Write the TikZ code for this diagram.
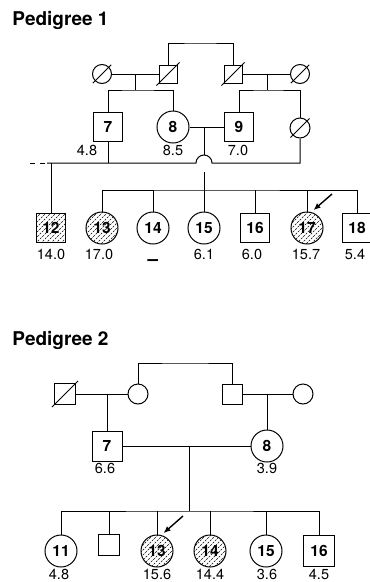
\documentclass[tikz,border=0pt]{standalone}
\usepackage{fontspec}
\setmainfont{TeX Gyre Heros}
\usetikzlibrary{arrows.meta}

\begin{document}
\begin{tikzpicture}[x=1pt, y=-1pt, line width=1pt,
  male/.style={draw, rectangle, inner sep=0pt, minimum size=#1, font=\fontsize{15.5}{15.5}\selectfont\bfseries},
  male/.default=29pt,
  female/.style={draw, circle, inner sep=0pt, minimum size=#1, font=\fontsize{15.5}{15.5}\selectfont\bfseries},
  female/.default=32pt,
  dead/.style={append after command={(\tikzlastnode.south west) edge[shorten <=-3pt, shorten >=-3pt] (\tikzlastnode.north east)}},
  aff/.style={path picture={\foreach \k in {-65,-60,...,15}
      \draw[line width=0.55pt, dash pattern=on 2pt off 1.3pt]
        ([shift={(\k pt,-25pt)}]path picture bounding box.center) -- ++(50pt,50pt);}},
  val/.style={font=\fontsize{14.5}{16}\selectfont, inner sep=0pt, anchor=base},
  ttl/.style={font=\fontsize{19}{22}\selectfont\bfseries, inner sep=0pt, anchor=base west},
  proband/.style={-{Latex[length=7pt,width=6pt]}, line width=1.4pt, shorten >=3pt}
]
\useasboundingbox (0,0) rectangle (370,582);

% Pedigree 1
\node[ttl] (t1) at (12,25) {Pedigree 1};
\node[female=19pt, dead] (a1) at (102,74) {};
\node[male=18pt, dead]   (a2) at (168,74) {};
\node[male=18pt, dead]   (a3) at (233,74) {};
\node[female=19pt, dead] (a4) at (300,74) {};
\node[male]   (n7) at (108,127) {7};
\node[female] (n8) at (173,127) {8};
\node[male]   (n9) at (239,127) {9};
\node[female=20pt, dead] (d9) at (300,128) {};
\node[male, aff]   (n12) at (51,228)  {12};
\node[female, aff] (n13) at (102,228) {13};
\node[female]      (n14) at (153,228) {14};
\node[female]      (n15) at (204,228) {15};
\node[male]        (n16) at (255,228) {16};
\node[female, aff] (n17) at (307,228) {17};
\node[male]        (n18) at (357,228) {18};

\coordinate (top1) at (200,43);
\coordinate (m1) at (135,74);
\coordinate (s1) at (135,90);
\coordinate (m2) at (267,74);
\coordinate (s2) at (267,90);
\coordinate (m3) at (204,127);
\coordinate (hop) at (204,163);
\coordinate (l0) at (30,163);
\coordinate (l1) at (47,163);
\coordinate (s3) at (204,190);

\draw (a2.north) |- (top1) -| (a3.north);
\draw (a1) -- (a2);
\draw (m1) -- (s1);
\draw (n7.north) |- (s1) -| (n8.north);
\draw (a3) -- (a4);
\draw (m2) -- (s2);
\draw (n9.north) |- (s2) -| (d9.north);
\draw (n8) -- (n9);
\draw[dash pattern=on 5pt off 5pt] (l0) -- (l1);
\draw (l1) -- ([xshift=-8pt]hop) arc[start angle=180, end angle=0, radius=8pt] -| (d9.south);
\draw (n7.south) -- (n7.south |- hop);
\draw (n12.north) -- (n12.north |- hop);
\draw (m3) -- ([yshift=8pt]hop);
\draw ([yshift=-9pt]hop) -- (s3);
\draw (n13.north) |- (s3) -| (n18.north);
\foreach \c in {14,15,16,17} \draw (n\c.north) -- (n\c.north |- s3);

\coordinate (pb1) at (332,194);
\draw[proband] (pb1) -- (n17.75);

\node[val] (v7)  at (87,155)  {4.8};
\node[val] (v8)  at (173,155) {8.5};
\node[val] (v9)  at (238,155) {7.0};
\node[val] (v12) at (51,259)  {14.0};
\node[val] (v13) at (99,259)  {17.0};
\node[val, font=\fontsize{19}{19}\selectfont\bfseries] (v14) at (153,265) {–};
\node[val] (v15) at (204,259) {6.1};
\node[val] (v16) at (252,259) {6.0};
\node[val] (v17) at (306,259) {15.7};
\node[val] (v18) at (355,259) {5.4};

% Pedigree 2
\node[ttl] (t2) at (12,345) {Pedigree 2};
\node[male=21pt, dead] (b1) at (65,394)  {};
\node[female=20pt]     (b2) at (138,394) {};
\node[male=20pt]       (b3) at (232,394) {};
\node[female=20pt]     (b4) at (303,394) {};
\node[male=30pt] (q7) at (107,446) {7};
\node[female]    (q8) at (267,446) {8};
\node[female]      (q11) at (61,551)  {11};
\node[male=21pt]   (qx)  at (109,545) {};
\node[female, aff] (q13) at (157,551) {13};
\node[female, aff] (q14) at (210,551) {14};
\node[female]      (q15) at (266,551) {15};
\node[male=31pt]   (q16) at (319,551) {16};

\coordinate (top2) at (185,363);
\coordinate (m4) at (107,394);
\coordinate (m5) at (267,394);
\coordinate (m6) at (189,446);
\coordinate (s6) at (189,511);

\draw (b2.north) |- (top2) -| (b3.north);
\draw (b1) -- (b2);
\draw (m4) -- (q7.north);
\draw (b3) -- (b4);
\draw (m5) -- (q8.north);
\draw (q7) -- (q8);
\draw (m6) -- (s6);
\draw (q11.north) |- (s6) -| (q16.north);
\foreach \c in {x,13,14,15} \draw (q\c.north) -- (q\c.north |- s6);

\coordinate (pb2) at (183,516);
\draw[proband] (pb2) -- (q13.75);

\node[val] (w7)  at (105,473) {6.6};
\node[val] (w8)  at (267,473) {3.9};
\node[val] (w11) at (59,579)  {4.8};
\node[val] (w13) at (157,579) {15.6};
\node[val] (w14) at (210,579) {14.4};
\node[val] (w15) at (267,579) {3.6};
\node[val] (w16) at (319,579) {4.5};
\end{tikzpicture}
\end{document}
